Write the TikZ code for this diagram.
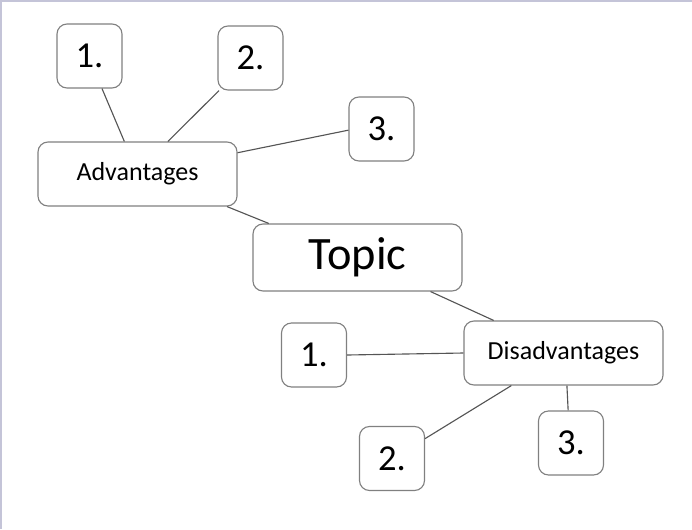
\documentclass[tikz,border=0pt]{standalone}
\usepackage{fontspec}
\setmainfont{Carlito}
\usetikzlibrary{calc}

\definecolor{boxgray}{HTML}{808080}
\definecolor{linegray}{HTML}{555555}
\definecolor{framecol}{HTML}{C4C4D8}

\begin{document}
\begin{tikzpicture}
	[x=0.025cm, y=-0.025cm,
	box/.style={draw=boxgray, rounded corners=0.25cm, inner sep=0pt, line width=0.8pt, fill=white},
	numbox/.style={box, minimum width=1.625cm, minimum height=1.6cm, font=\fontsize{26}{30}\selectfont},
	sidebox/.style={box, minimum width=4.975cm, minimum height=1.6cm, font=\fontsize{18.5}{22}\selectfont},
	topicbox/.style={box, minimum width=5.225cm, minimum height=1.675cm, font=\fontsize{33}{38}\selectfont},
	link/.style={draw=linegray, line width=0.8pt}];

	%Frame
	\useasboundingbox (0,0) rectangle (692,529);
	\draw[framecol, line width=1.5pt] (0.5,529) -- (0.5,0.5) -- (692,0.5);

	%Nodes
	\node[topicbox] (topic) at (357.5,257.5) {Topic};
	\node[sidebox] (adv) at (137.5,174) {Advantages};
	\node[sidebox] (dis) at (563.5,353) {Disadvantages};

	\node[numbox] (adv1) at (89.5,56) {1.};
	\node[numbox] (adv2) at (250.5,58) {2.};
	\node[numbox] (adv3) at (381.5,129) {3.};

	\node[numbox] (dis1) at (314,355) {1.};
	\node[numbox] (dis2) at (392,458.5) {2.};
	\node[numbox] (dis3) at (571,443) {3.};

	%Links
	\draw[link] (adv.-20) -- (topic.159);
	\draw[link] (topic.-25) -- (dis.155);

	\draw[link] (adv1.-69) -- (adv.112);
	\draw[link] (adv2.-134) -- (adv.47);
	\draw[link] (adv3.182) -- (adv.12);

	\draw[link] (dis1.east) -- (dis.west);
	\draw[link] (dis2.31) -- (dis.-148);
	\draw[link] (dis3.95) -- (dis.-84);
\end{tikzpicture}
\end{document}
